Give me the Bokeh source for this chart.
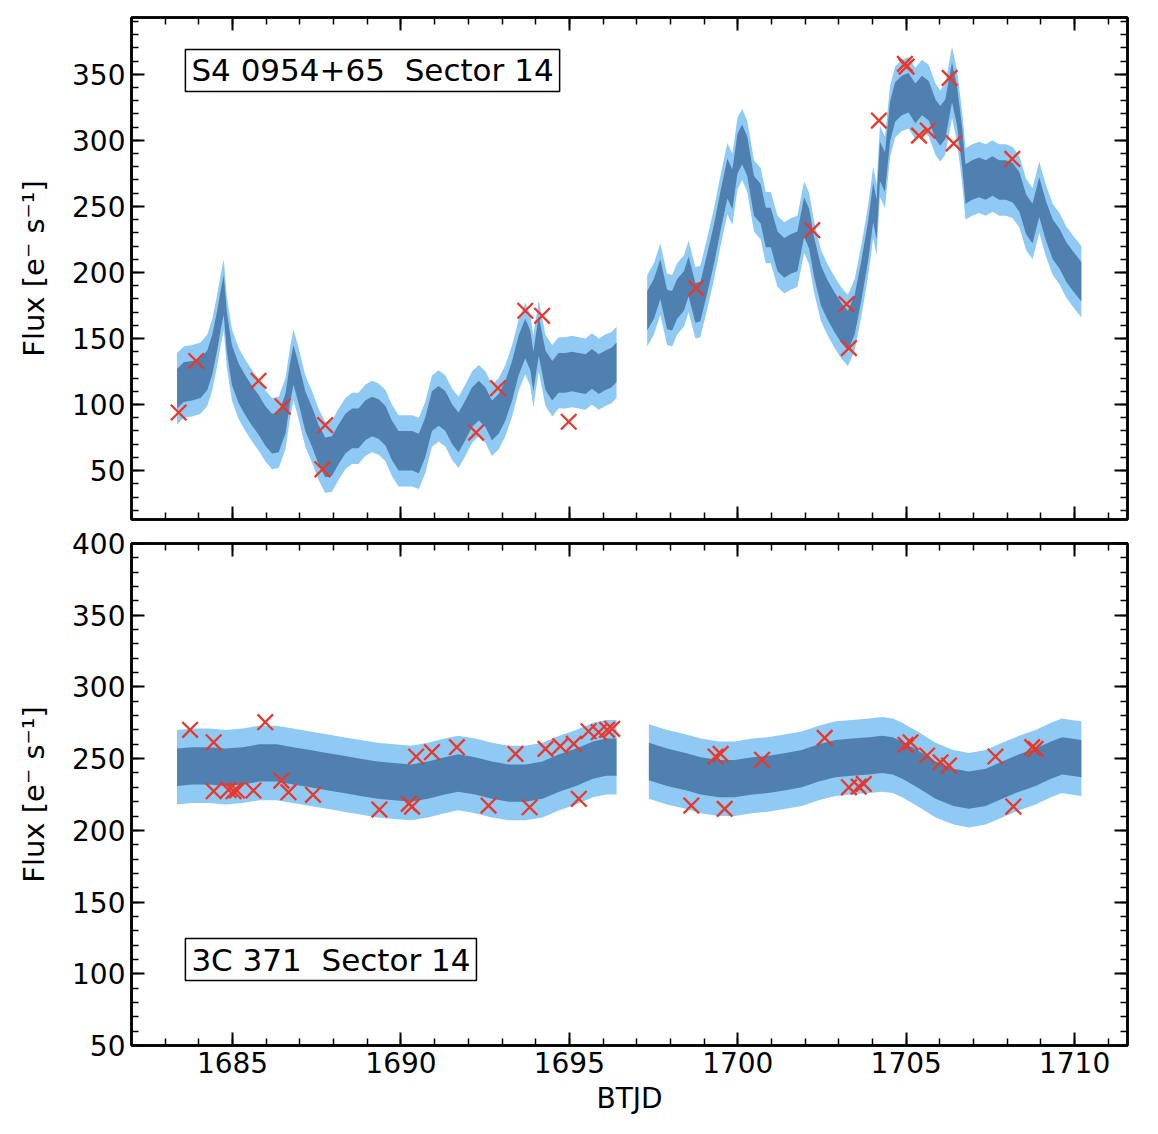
import numpy as np
from bokeh.plotting import figure
from bokeh.models import Range1d, FixedTicker, LinearAxis, Label, CustomJSTickFormatter
from bokeh.layouts import column
from bokeh.embed import file_html
from bokeh.resources import INLINE

# ---------------- data: S4 0954+65 (top) ----------------
s4_t1 = [1683.35, 1683.55, 1683.8, 1684.05, 1684.25, 1684.4, 1684.55, 1684.65, 1684.74, 1684.83,
         1684.98, 1685.18, 1685.38, 1685.58, 1685.78, 1685.97, 1686.17, 1686.37, 1686.57, 1686.71,
         1686.81, 1686.96, 1687.16, 1687.36, 1687.55, 1687.75, 1687.95, 1688.15, 1688.35, 1688.55,
         1688.74, 1688.94, 1689.14, 1689.34, 1689.54, 1689.73, 1689.93, 1690.13, 1690.33, 1690.53,
         1690.72, 1690.92, 1691.12, 1691.32, 1691.52, 1691.71, 1691.91, 1692.11, 1692.31, 1692.51,
         1692.70, 1692.90, 1693.10, 1693.30, 1693.49, 1693.69, 1693.84, 1693.93, 1694.09, 1694.29,
         1694.49, 1694.68, 1694.88, 1695.08, 1695.28, 1695.48, 1695.67, 1695.87, 1696.07, 1696.25,
         1696.4]
s4_f1 = [112, 117, 118, 120, 126, 138, 157, 172, 183, 155,
         130, 116, 107, 99, 92, 84, 78, 79, 93, 117,
         130, 116, 95, 83, 70, 60, 61, 70, 78, 82,
         82, 88, 91, 89, 84, 73, 65, 65, 65, 63,
         75, 95, 99, 95, 85, 79, 88, 98, 103, 98,
         88, 93, 103, 118, 137, 150, 141, 125, 152, 126,
         118, 124, 124, 125, 124, 123, 127, 123, 126, 128,
         132]
s4_t2 = [1697.31, 1697.51, 1697.70, 1697.9, 1698.05, 1698.2, 1698.4, 1698.54, 1698.74, 1698.89,
         1699.09, 1699.29, 1699.49, 1699.69, 1699.84, 1699.99, 1700.13, 1700.28, 1700.48, 1700.68,
         1700.83, 1700.98, 1701.18, 1701.38, 1701.57, 1701.77, 1701.97, 1702.12, 1702.27, 1702.47,
         1702.67, 1702.87, 1703.07, 1703.27, 1703.47, 1703.67, 1703.87, 1704.02, 1704.12, 1704.22,
         1704.37, 1704.52, 1704.67, 1704.87, 1705.07, 1705.27, 1705.47, 1705.67, 1705.87, 1706.01,
         1706.16, 1706.36, 1706.51, 1706.66, 1706.76, 1706.96, 1707.16, 1707.36, 1707.56, 1707.76,
         1707.96, 1708.16, 1708.36, 1708.56, 1708.75, 1708.95, 1709.15, 1709.35, 1709.55, 1709.75,
         1709.95, 1710.2]
s4_f2 = [171, 180, 195, 172, 171, 180, 186, 197, 177, 178,
         199, 221, 247, 271, 263, 290, 297, 288, 258, 252,
         234, 234, 216, 211, 214, 216, 242, 233, 211, 190,
         179, 170, 162, 156, 168, 194, 224, 253, 240, 284,
         276, 314, 329, 334, 336, 328, 334, 330, 316, 311,
         316, 344, 326, 295, 267, 270, 272, 270, 273, 270,
         270, 268, 261, 244, 237, 257, 239, 225, 218, 208,
         201, 193]
s4_scatter = 15
s4_err = 27
s4_mark_t = [1683.40, 1683.92, 1685.77, 1686.49, 1687.75, 1687.67, 1692.23, 1692.88, 1693.69, 1694.19,
             1694.98, 1698.76, 1702.21, 1703.23, 1703.30, 1704.19, 1704.96, 1705.01, 1705.38, 1705.64,
             1706.29, 1706.41, 1708.15]
s4_mark_f = [94, 133, 118, 98.5, 84.4, 51, 78.8, 112.4, 171, 167.2,
             87, 188.2, 232, 176, 142.7, 315, 357.9, 355.8, 303.6, 307.4,
             347.3, 297.7, 286]

# ---------------- data: 3C 371 (bottom) ----------------
c3_t1 = [1683.35, 1683.8, 1684.3, 1684.8, 1685.3, 1685.8, 1686.3, 1686.8, 1687.3, 1687.8,
         1688.3, 1688.8, 1689.3, 1689.8, 1690.3, 1690.8, 1691.3, 1691.7, 1692.2, 1692.7,
         1693.2, 1693.7, 1694.2, 1694.7, 1695.2, 1695.7, 1696.1, 1696.4]
c3_f1 = [244, 245, 245, 244, 245, 247, 247, 245, 243, 241,
         239, 237, 235, 234, 233, 235, 238, 240, 238, 235,
         233, 233, 235, 240, 244, 249, 251, 251]
c3_t2 = [1697.36, 1697.9, 1698.45, 1698.9, 1699.43, 1699.9, 1700.43, 1700.9, 1701.42, 1701.9,
         1702.4, 1702.9, 1703.39, 1703.9, 1704.29, 1704.6, 1704.88, 1705.4, 1705.87, 1706.4,
         1706.86, 1707.36, 1707.85, 1708.35, 1708.84, 1709.3, 1709.63, 1709.9, 1710.2]
c3_f2 = [248, 244, 241, 238, 236, 236, 238, 239, 241, 243,
         247, 250, 251, 252, 253, 252, 249, 242, 235, 230,
         228, 230, 235, 240, 244, 249, 252, 251, 250]
c3_scatter = 13
c3_err = 26
c3_mark_t = [1683.74, 1684.44, 1684.44, 1684.88, 1685.03, 1685.13, 1685.62, 1685.97, 1686.45, 1686.66,
             1687.39, 1689.36, 1690.23, 1690.33, 1690.45, 1690.92, 1691.66, 1692.60, 1693.40, 1693.82,
             1694.29, 1694.73, 1695.13, 1695.28, 1695.57, 1695.87, 1696.12, 1696.27,
             1698.62, 1699.34, 1699.49, 1699.61, 1700.72, 1702.58, 1703.30, 1703.59, 1703.74, 1704.98,
             1705.13, 1705.62, 1706.02, 1706.27, 1707.65, 1708.18, 1708.74, 1708.84]
c3_mark_f = [270.1, 261.4, 227.3, 228.2, 227.3, 227.8, 227.8, 275.4, 234.7, 226.6,
             224.8, 214.5, 218.5, 216.6, 251.5, 254.5, 258, 217.3, 253.3, 216.1,
             256.8, 258.7, 260.3, 222, 269.1, 268.4, 270.1, 270.8,
             217.3, 251.5, 253.3, 215, 249.2, 264.5, 230, 230.5, 232.4, 259.6,
             261.4, 252.2, 247.5, 245.2, 251.5, 216.6, 258, 256.8]

x_ticks = [1685, 1690, 1695, 1700, 1705, 1710]
x_minor = list(range(1682, 1712))
top_yticks = [50, 100, 150, 200, 250, 300, 350]
top_yminor = list(range(20, 400, 10))
bot_yticks = [50, 100, 150, 200, 250, 300, 350, 400]
bot_yminor = list(range(50, 401, 10))

top_label = "S4 0954+65\u00a0 Sector 14"
bot_label = "3C 371\u00a0 Sector 14"
y_title = "Flux [e\u207b s\u207b\u00b9]"
x_title = "BTJD"

DARK = "#5080b0"
LIGHT = "#8fcaf4"
RED = "#e8382b"
FONT = "DejaVu Sans"

x_range = Range1d(1682.0, 1711.57)
blank = CustomJSTickFormatter(code="return ''")


def style_axis(ax, ticks, minor, show_labels):
    ax.ticker = FixedTicker(ticks=ticks, minor_ticks=minor)
    ax.major_tick_in = 13
    ax.major_tick_out = 0
    ax.minor_tick_in = 7
    ax.minor_tick_out = 0
    ax.major_tick_line_width = 2
    ax.minor_tick_line_width = 1.5
    ax.major_tick_line_color = "black"
    ax.minor_tick_line_color = "black"
    ax.axis_line_width = 2.5
    ax.axis_line_color = "black"
    ax.major_label_text_font = FONT
    ax.major_label_text_color = "black"
    ax.axis_label_text_color = "black"
    if show_labels:
        ax.major_label_text_font_size = "28px"
        ax.major_label_standoff = 6
    else:
        ax.formatter = blank
        ax.major_label_text_font_size = "2px"
        ax.major_label_standoff = 0


def make_panel(yr, yticks, yminor, series, scatter, err, mt, mf, label_text, label_xy,
               show_x, height, b_top, b_bottom):
    p = figure(width=1150, height=height, x_range=x_range, y_range=yr,
               output_backend="svg", toolbar_location=None,
               min_border_left=131, min_border_right=23,
               min_border_top=b_top, min_border_bottom=b_bottom)
    p.grid.visible = False
    p.outline_line_color = "black"
    p.outline_line_width = 2.5
    p.background_fill_color = "white"
    p.border_fill_color = "white"
    for t, f in series:
        t = np.array(t, dtype=float)
        f = np.array(f, dtype=float)
        p.varea(x=t, y1=f - err, y2=f + err, fill_color=LIGHT, fill_alpha=1.0)
        p.varea(x=t, y1=f - scatter, y2=f + scatter, fill_color=DARK, fill_alpha=1.0)
    p.scatter(x=mt, y=mf, marker="x", size=22, line_color=RED, line_width=2.3)

    style_axis(p.xaxis[0], x_ticks, x_minor, show_x)
    style_axis(p.yaxis[0], yticks, yminor, True)
    p.yaxis[0].axis_label = y_title
    p.yaxis[0].axis_label_text_font = FONT
    p.yaxis[0].axis_label_text_font_size = "29px"
    p.yaxis[0].axis_label_text_font_style = "normal"
    p.yaxis[0].axis_label_standoff = 18
    if show_x:
        p.xaxis[0].axis_label = x_title
        p.xaxis[0].axis_label_text_font = FONT
        p.xaxis[0].axis_label_text_font_size = "28px"
        p.xaxis[0].axis_label_text_font_style = "normal"
        p.xaxis[0].axis_label_standoff = 6

    top_ax = LinearAxis()
    style_axis(top_ax, x_ticks, x_minor, False)
    p.add_layout(top_ax, "above")
    right_ax = LinearAxis()
    style_axis(right_ax, yticks, yminor, False)
    p.add_layout(right_ax, "right")

    lab = Label(x=label_xy[0], y=label_xy[1], text=label_text,
                text_font=FONT, text_font_size="31px", text_color="black",
                border_line_color="black", border_line_width=1.5,
                background_fill_color="white", padding=(6, 3))
    p.add_layout(lab)
    return p


p1 = make_panel(Range1d(13, 393), top_yticks, top_yminor,
                [(s4_t1, s4_f1), (s4_t2, s4_f2)], s4_scatter, s4_err,
                s4_mark_t, s4_mark_f, top_label, (1683.6, 337),
                False, 523, 17, 4)
p2 = make_panel(Range1d(50, 400), bot_yticks, bot_yminor,
                [(c3_t1, c3_f1), (c3_t2, c3_f2)], c3_scatter, c3_err,
                c3_mark_t, c3_mark_f, bot_label, (1683.6, 95.3),
                True, 604, 20, 82)

layout = column(p1, p2)
open("out.html", "w").write(file_html(layout, INLINE))
